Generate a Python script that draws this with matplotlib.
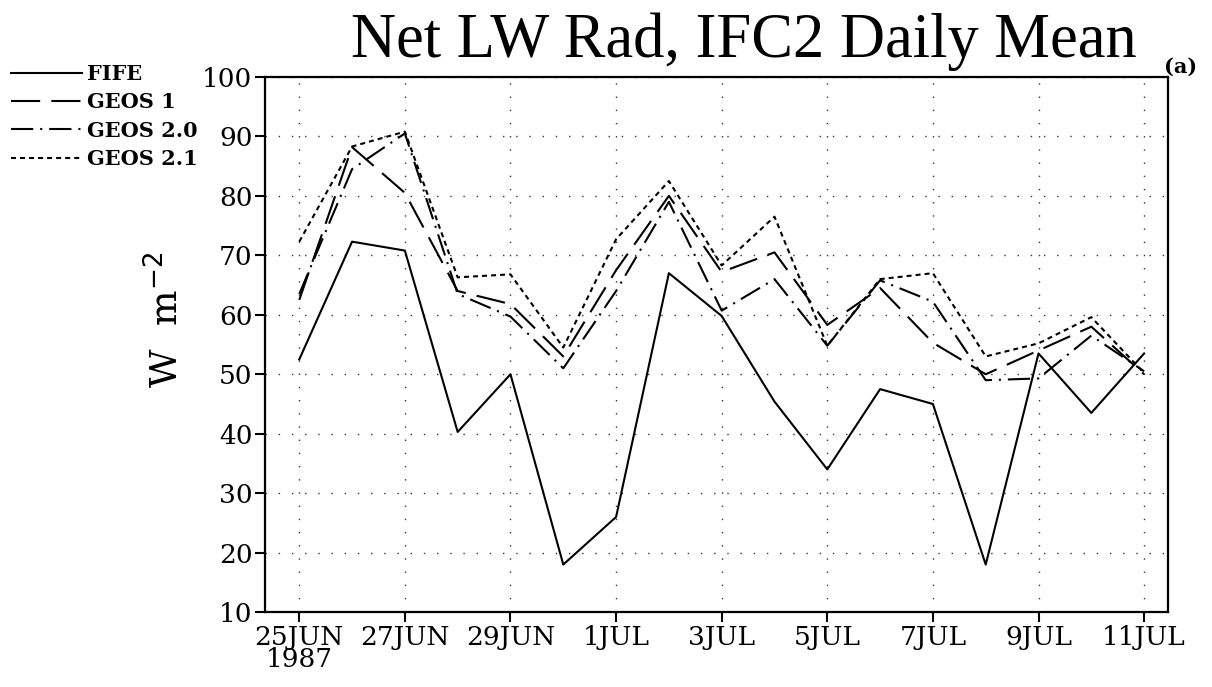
import numpy as np
import matplotlib
matplotlib.use("Agg")
import matplotlib.pyplot as plt

# daily means, 25 JUN .. 11 JUL 1987 (W m-2)
days = np.arange(17)
fife = [52.5, 72.3, 70.8, 40.3, 50.0, 18.0, 26.0, 67.0, 59.8, 45.4,
        34.0, 47.5, 45.0, 18.0, 53.5, 43.5, 53.5]
geos1 = [62.5, 88.2, 80.5, 64.0, 61.8, 53.0, 67.5, 80.0, 67.2, 70.5,
         58.3, 64.5, 55.3, 50.0, 54.0, 58.0, 50.0]
geos20 = [63.5, 84.5, 90.5, 63.5, 59.7, 51.0, 64.0, 79.0, 60.7, 66.0,
          54.8, 65.8, 62.2, 49.0, 49.3, 56.5, 50.5]
geos21 = [72.3, 88.3, 90.8, 66.3, 66.8, 54.5, 72.7, 82.5, 68.3, 76.5,
          54.8, 66.0, 67.0, 53.0, 55.2, 59.6, 50.2]

tick_days = [0, 2, 4, 6, 8, 10, 12, 14, 16]
tick_labels = ["25JUN\n1987", "27JUN", "29JUN", "1JUL", "3JUL",
               "5JUL", "7JUL", "9JUL", "11JUL"]
yticks = np.arange(10, 101, 10)

plt.rcParams["font.family"] = ["DejaVu Serif"]
plt.rcParams["lines.scale_dashes"] = False

fig = plt.figure(figsize=(12.12, 6.87), dpi=100)
ax = fig.add_axes([0.2186, 0.109, 0.745, 0.779])

lw = 1.5
ax.plot(days, fife, color="black", lw=lw, label="FIFE")
ax.plot(days, geos1, color="black", lw=lw, dashes=(21, 8), label="GEOS 1")
ax.plot(days, geos20, color="black", lw=lw, dashes=(16, 5, 1.5, 5), label="GEOS 2.0")
ax.plot(days, geos21, color="black", lw=lw, dashes=(3.6, 2.9), label="GEOS 2.1")

ax.set_xlim(-0.65, 16.45)
ax.set_ylim(10, 100)
ax.set_xticks(tick_days)
ax.set_xticklabels(tick_labels, fontsize=19, linespacing=0.85)
ax.set_yticks(yticks)
ax.set_yticklabels([str(v) for v in yticks], fontsize=19)
ax.tick_params(direction="out", length=7, width=1.5, pad=2)

ax.grid(True, color="0.2", lw=1.0, linestyle=(0, (1, 8.5)))
for s in ax.spines.values():
    s.set_linewidth(1.6)

fig.text(0.614, 0.917, "Net LW Rad, IFC2 Daily Mean", fontsize=45,
         ha="center", va="baseline", family="Liberation Serif")
fig.text(0.974, 0.903, "(a)", fontsize=15, fontweight="bold", ha="center", va="center")
fig.text(0.138, 0.535, r"W  m$^{-2}$", fontsize=27, rotation=90,
         ha="center", va="center")

fig.legend(loc="upper left", bbox_to_anchor=(0.009, 0.907), frameon=False,
           prop={"weight": "bold", "size": 15},
           handlelength=3.4, handletextpad=0.25, labelspacing=0.4,
           borderpad=0, borderaxespad=0)

fig.savefig("out.png", dpi=100)
